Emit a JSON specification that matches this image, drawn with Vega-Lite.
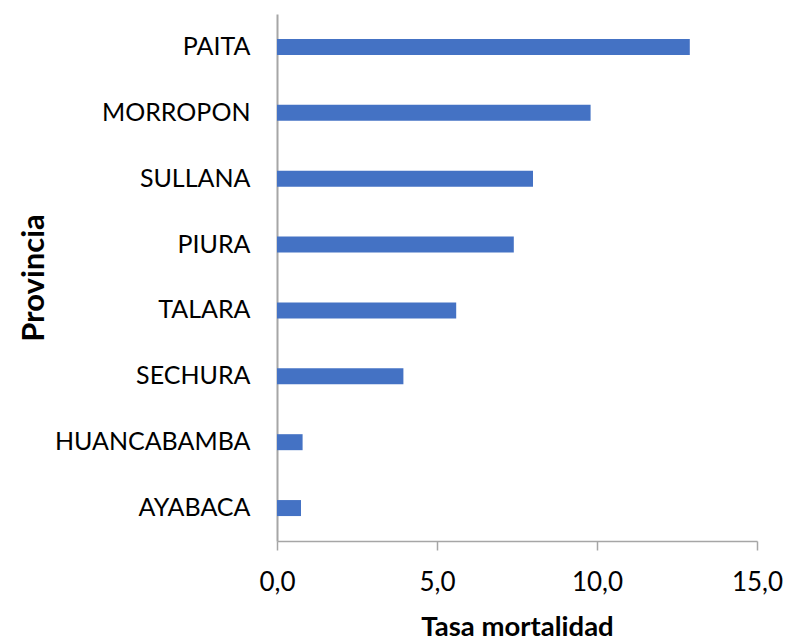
{
  "$schema": "https://vega.github.io/schema/vega-lite/v6.json",
  "width": 480,
  "height": 527,
  "autosize": {"type": "none"},
  "padding": {"left": 277, "top": 14, "right": 30, "bottom": 99},
  "background": "white",
  "data": {
    "values": [
      {"Provincia": "PAITA", "Tasa": 12.9},
      {"Provincia": "MORROPON", "Tasa": 9.8},
      {"Provincia": "SULLANA", "Tasa": 8.0},
      {"Provincia": "PIURA", "Tasa": 7.4},
      {"Provincia": "TALARA", "Tasa": 5.6},
      {"Provincia": "SECHURA", "Tasa": 3.95},
      {"Provincia": "HUANCABAMBA", "Tasa": 0.8},
      {"Provincia": "AYABACA", "Tasa": 0.75}
    ]
  },
  "mark": {"type": "bar", "size": 16, "color": "#4472C4"},
  "encoding": {
    "y": {
      "field": "Provincia",
      "type": "nominal",
      "sort": null,
      "scale": {"paddingInner": 0, "paddingOuter": 0},
      "axis": {
        "title": "Provincia",
        "titleFont": "Lato",
        "titleFontSize": 31,
        "titleFontWeight": "bold",
        "titleColor": "#000000",
        "titlePadding": 27,
        "labelFont": "Lato",
        "labelFontSize": 25,
        "labelColor": "#000000",
        "labelPadding": 27,
        "labelLimit": 300,
        "ticks": false,
        "domainColor": "#A6A6A6",
        "domainWidth": 2,
        "grid": false
      }
    },
    "x": {
      "field": "Tasa",
      "type": "quantitative",
      "scale": {"domain": [0, 15], "nice": false},
      "axis": {
        "title": "Tasa mortalidad",
        "titleFont": "Lato",
        "titleFontSize": 27.5,
        "titleFontWeight": "bold",
        "titleColor": "#000000",
        "titlePadding": 18,
        "values": [0, 5, 10, 15],
        "labelExpr": "replace(format(datum.value, '.1f'), '.', ',')",
        "labelFont": "Lato",
        "labelFontSize": 26,
        "labelColor": "#000000",
        "labelPadding": 19,
        "labelFlush": false,
        "labelOverlap": false,
        "tickSize": 9,
        "tickColor": "#A6A6A6",
        "tickWidth": 1.5,
        "domainColor": "#A6A6A6",
        "domainWidth": 1.5,
        "grid": false
      }
    }
  },
  "config": {"view": {"stroke": null}}
}
